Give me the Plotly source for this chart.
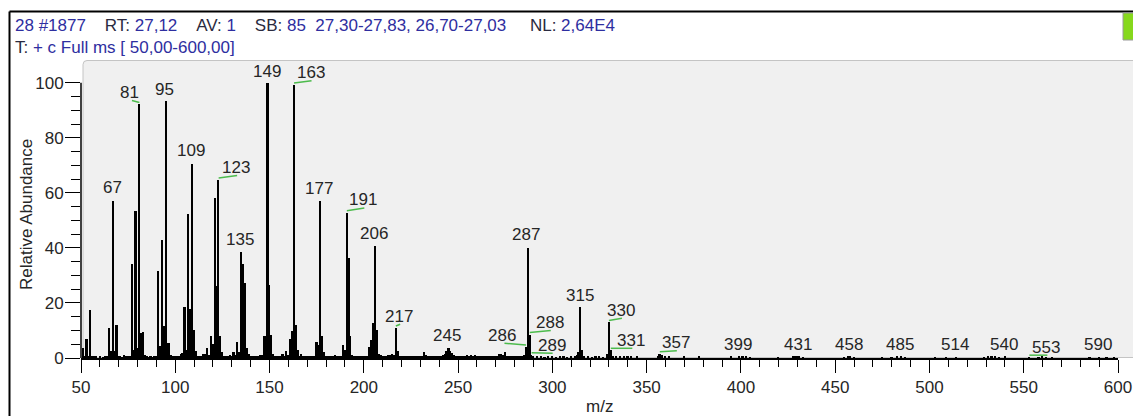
import plotly.graph_objects as go

# ---- spectrum data: m/z and relative abundance (%) ----
mz = [51, 52, 53, 54, 55, 56, 57, 58, 60, 62, 63, 64, 65, 66, 67, 68, 69, 70,
      71, 72, 73, 74, 75, 76, 77, 78, 79, 80, 81, 82, 83, 84, 85, 86, 87, 88,
      89, 90, 91, 92, 93, 94, 95, 96, 97, 98, 99, 100, 101, 102, 103, 104,
      105, 106, 107, 108, 109, 110, 111, 112, 113, 114, 115, 116, 117, 118,
      119, 120, 121, 122, 123, 124, 125, 126, 127, 128, 129, 130, 131, 132,
      133, 134, 135, 136, 137, 138, 139, 140, 141, 142, 143, 144, 145, 146,
      147, 148, 149, 150, 151, 152, 153, 154, 155, 156, 157, 158, 159, 160,
      161, 162, 163, 164, 165, 166, 167, 168, 169, 170, 171, 172, 173, 174,
      175, 176, 177, 178, 179, 180, 181, 182, 183, 184, 185, 186, 187, 188,
      189, 190, 191, 192, 193, 194, 195, 196, 197, 198, 199, 200, 201, 202,
      203, 204, 205, 206, 207, 208, 209, 210, 211, 212, 213, 214, 215, 216,
      217, 218, 219, 220, 221, 222, 223, 224, 225, 226, 227, 228, 229, 230,
      231, 232, 233, 234, 235, 236, 237, 238, 239, 240, 241, 242, 243, 244,
      245, 246, 247, 248, 249, 250, 251, 252, 253, 254, 255, 256, 257, 258,
      259, 260, 261, 262, 263, 264, 265, 266, 267, 268, 269, 270, 271, 272,
      273, 274, 275, 276, 277, 278, 279, 280, 281, 282, 283, 284, 285, 286,
      287, 288, 289, 290, 292, 294, 296, 298, 300, 302, 304, 306, 308, 310,
      312, 313, 314, 315, 316, 317, 319, 321, 323, 325, 327, 329, 330, 331,
      332, 334, 336, 338, 340, 342, 345, 356, 357, 358, 360, 362, 370, 378,
      395, 399, 401, 403, 405, 420, 428, 429, 430, 431, 433, 455, 457, 458,
      460, 475, 480, 483, 485, 487, 503, 509, 514, 529, 531, 533, 535, 537,
      540, 553, 558, 560, 562, 565, 585, 590, 594, 598]

rel_abundance = [3.6, 0.5, 6.9, 0.5, 17.3, 0.8, 0.5, 0.4, 0.4, 0.3, 0.6, 0.5,
                 10.9, 2.7, 57.1, 2.5, 11.9, 0.8, 0.5, 0.3, 1.0, 0.4, 0.5, 0.5,
                 34.2, 3.0, 53.4, 3.8, 92.1, 9.0, 9.3, 1.0, 0.6, 0.3, 0.4, 0.3,
                 0.5, 0.4, 31.7, 4.5, 42.9, 11.5, 93.2, 5.5, 5.3, 1.0, 0.8, 0.4,
                 0.5, 0.4, 1.5, 1.8, 18.5, 3.0, 52.2, 17.8, 70.6, 10.0, 2.5, 0.8,
                 0.5, 0.4, 1.5, 1.5, 3.6, 1.2, 8.1, 5.0, 58.3, 26.0, 64.7, 8.1,
                 2.0, 0.6, 0.5, 0.8, 1.0, 0.6, 2.0, 1.0, 5.8, 2.0, 38.5, 34.1,
                 27.2, 3.6, 1.5, 0.5, 0.4, 0.4, 0.8, 0.5, 1.0, 1.2, 7.9, 8.1,
                 100.0, 26.6, 8.5, 1.5, 0.6, 0.4, 0.5, 0.6, 1.5, 0.5, 2.4, 1.0,
                 6.9, 9.9, 99.2, 11.9, 3.0, 0.7, 1.5, 0.5, 0.6, 0.4, 0.8, 0.6,
                 0.8, 0.5, 5.8, 4.6, 57.1, 8.1, 2.0, 0.5, 0.6, 0.4, 0.5, 0.4,
                 1.0, 0.5, 0.8, 0.5, 4.8, 3.0, 52.8, 36.3, 7.9, 1.2, 0.8, 0.6,
                 0.5, 0.5, 0.4, 0.6, 0.5, 0.8, 4.0, 6.6, 12.7, 40.7, 10.0, 1.5,
                 1.0, 0.5, 0.6, 0.5, 1.0, 1.2, 1.5, 1.0, 10.9, 2.5, 0.8, 0.6,
                 0.8, 0.5, 0.7, 0.5, 0.6, 0.8, 0.6, 0.5, 0.7, 0.4, 0.8, 2.0,
                 1.2, 0.5, 0.6, 0.4, 0.5, 0.4, 0.6, 0.5, 0.6, 1.0, 1.6, 2.5,
                 3.6, 2.5, 1.8, 1.0, 0.6, 0.4, 0.5, 0.4, 0.5, 0.8, 1.0, 0.6,
                 1.2, 0.8, 1.1, 0.6, 0.4, 0.5, 0.4, 0.5, 0.8, 0.4, 0.5, 0.4,
                 0.6, 0.5, 0.9, 1.3, 1.5, 1.2, 2.0, 0.8, 0.5, 0.4, 0.5, 0.4,
                 0.5, 0.6, 0.4, 0.5, 1.0, 4.0, 40.1, 8.5, 1.2, 0.6, 0.4, 0.5,
                 0.3, 0.4, 0.5, 0.3, 0.4, 0.5, 0.3, 0.4, 0.5, 1.0, 2.0, 18.4,
                 3.0, 0.8, 0.4, 0.3, 0.5, 0.4, 0.3, 1.5, 12.9, 2.8, 0.8, 0.5,
                 0.4, 0.6, 0.4, 0.5, 0.4, 0.8, 1.5, 1.0, 0.6, 0.7, 0.5, 0.5,
                 0.4, 0.5, 0.4, 0.5, 0.3, 0.3, 0.4, 0.4, 0.4, 0.5, 0.3, 0.3,
                 0.4, 0.4, 0.3, 0.3, 0.3, 0.4, 0.4, 0.3, 0.3, 0.3, 0.3, 0.3,
                 0.4, 0.4, 0.4, 0.3, 0.4, 0.3, 0.3, 0.4, 0.3, 0.3, 0.3, 0.3,
                 0.3, 0.3]

# peaks carrying an m/z label
label_mz = [67, 81, 95, 109, 123, 135, 149, 163, 177, 191, 206, 217, 245,
            286, 287, 288, 289, 315, 330, 331, 357, 399, 431, 458, 485, 514,
            540, 553, 590]

# header lines of the scan
header_line1 = [("28 #1877", "v"), ("RT:", "k"), ("27,12", "v"), ("AV:", "k"),
                ("1", "v"), ("SB:", "k"), ("85", "v"),
                ("27,30-27,83, 26,70-27,03", "v"), ("NL:", "k"), ("2,64E4", "v")]
header_line2 = [("T:", "k"), ("+ c Full ms [ 50,00-600,00]", "v")]

x_major = [50, 100, 150, 200, 250, 300, 350, 400, 450, 500, 550, 600]
y_major = [0, 20, 40, 60, 80, 100]

# ---- page geometry (pixels) ----
W, H = 1133, 416
ML, MR, MT, MB = 81, 15, 61, 58
PW, PH = W - ML - MR, H - MT - MB


def pxx(x):
    return (x - ML) / PW


def pxy(y):
    return (H - MB - y) / PH


FONT = "Arial, Liberation Sans, sans-serif"
TEXT_DARK = "#262626"
BLUE = "#2e2ea0"
HEAD_DARK = "#2a2a40"
GREEN = "#4cbb4c"

# label placement (pixel shift from the peak top) and leader lines
label_shift = {67: (-1, 13), 81: (-10, 12), 95: (-1, 11.5), 109: (-1, 13),
               123: (17.5, 12.3), 135: (-1, 12.3), 149: (-0.6, 11.7),
               163: (16.5, 12.3), 177: (-1.3, 12.7), 191: (16.5, 12.7),
               206: (-1.4, 12), 217: (3.3, 11.8), 245: (-1.7, 12.3),
               286: (-24, 11.8), 287: (-2, 12.7), 288: (20, 12),
               289: (20, 9.5), 315: (-0.6, 12), 330: (12, 12.3),
               331: (20.5, 10), 357: (16, 11), 553: (17, 10)}
leader = {81, 123, 163, 191, 217, 286, 288, 289, 330, 331, 357, 553}

height_of = dict(zip(mz, rel_abundance))

fig = go.Figure()
fig.add_trace(go.Bar(x=mz, y=rel_abundance, width=0.9,
                     marker=dict(color="black", line=dict(width=0)),
                     hoverinfo="skip", showlegend=False))

shapes = []
# grey spectrum panel with rounded top-left corner
x0p, x1p = pxx(83), pxx(1134)
y0p, y1p = pxy(357.5), pxy(60.5)
r = 4
shapes.append(dict(
    type="path", xref="paper", yref="paper", layer="below",
    path=(f"M {x0p},{y0p} L {x0p},{pxy(60.5 + r)} "
          f"Q {x0p},{y1p} {pxx(83 + r)},{y1p} L {x1p},{y1p} L {x1p},{y0p} Z"),
    fillcolor="#f0f0f0", line=dict(color="#c4c4c4", width=1)))
# y axis line from 0 to 100 only
shapes.append(dict(type="line", xref="paper", yref="y", x0=0, x1=0, y0=0,
                   y1=100, line=dict(color="black", width=1.5)))
# outer window frame
shapes.append(dict(type="line", xref="paper", yref="paper", x0=pxx(9.5),
                   x1=pxx(1134), y0=pxy(11.5), y1=pxy(11.5),
                   line=dict(color="black", width=2)))
shapes.append(dict(type="line", xref="paper", yref="paper", x0=pxx(9.5),
                   x1=pxx(9.5), y0=pxy(11.5), y1=pxy(417),
                   line=dict(color="black", width=2)))
# small status box at the top right
shapes.append(dict(type="rect", xref="paper", yref="paper", x0=pxx(1123),
                   x1=pxx(1134), y0=pxy(40), y1=pxy(13),
                   fillcolor="#86d81c", line=dict(color="#9a9a9a", width=1)))

annotations = []
for m in label_mz:
    h = height_of[m]
    dx, dy = label_shift.get(m, (-1, 12.5))
    annotations.append(dict(
        x=m, y=h, xref="x", yref="y", text=str(m), showarrow=False,
        xshift=dx, yshift=dy, xanchor="center", yanchor="middle",
        font=dict(family=FONT, size=17, color=TEXT_DARK)))
    if m in leader:
        ex = dx + 2.5 if dx < 0 else dx + 1
        shapes.append(dict(
            type="line", xref="x", yref="y",
            xsizemode="pixel", ysizemode="pixel", xanchor=m, yanchor=h,
            x0=0, x1=ex, y0=2, y1=dy - 8,
            line=dict(color=GREEN, width=1.5)))


def header_html(parts, gaps):
    out = []
    for (txt, kind), gap in zip(parts, gaps):
        col = BLUE if kind == "v" else HEAD_DARK
        out.append(f"<span style='color:{col}'>{txt}</span>" + "&nbsp;" * gap)
    return "".join(out)


annotations.append(dict(
    x=pxx(13), y=pxy(25), xref="paper", yref="paper", xanchor="left",
    yanchor="middle", showarrow=False,
    text=header_html(header_line1, [4, 1, 4, 1, 4, 1, 2, 5, 1, 0]),
    font=dict(family=FONT, size=17, color=BLUE)))
annotations.append(dict(
    x=pxx(13), y=pxy(47), xref="paper", yref="paper", xanchor="left",
    yanchor="middle", showarrow=False,
    text=header_html(header_line2, [1, 0]),
    font=dict(family=FONT, size=17, color=BLUE)))
# axis titles
annotations.append(dict(
    x=pxx(26), y=pxy(215), xref="paper", yref="paper", textangle=-90,
    xanchor="center", yanchor="middle", showarrow=False,
    text="Relative Abundance", font=dict(family=FONT, size=17, color=TEXT_DARK)))
annotations.append(dict(
    x=pxx(599), y=pxy(406), xref="paper", yref="paper",
    xanchor="center", yanchor="middle", showarrow=False,
    text="m/z", font=dict(family=FONT, size=17, color=TEXT_DARK)))

x_minor = [v for v in range(60, 600, 10) if v % 50]
y_minor = [v for v in range(5, 100, 5) if v % 20]

fig.update_layout(
    width=W, height=H,
    margin=dict(l=ML, r=MR, t=MT, b=MB, pad=0),
    paper_bgcolor="white", plot_bgcolor="rgba(0,0,0,0)",
    bargap=0, showlegend=False,
    shapes=shapes, annotations=annotations,
    font=dict(family=FONT, size=17, color=TEXT_DARK),
    xaxis=dict(range=[50, 600], tickmode="array", tickvals=x_major,
               ticks="outside", ticklen=13, tickwidth=1, tickcolor="black",
               showline=True, linecolor="black", linewidth=1.5,
               showgrid=False, zeroline=False, ticklabeloverflow="allow",
               automargin=False,
               tickfont=dict(family=FONT, size=17, color=TEXT_DARK),
               minor=dict(tickmode="array", tickvals=x_minor, ticks="outside",
                          ticklen=7, tickwidth=1, tickcolor="black",
                          showgrid=False)),
    yaxis=dict(range=[0, 107.9], tickmode="array", tickvals=y_major,
               ticks="outside", ticklen=15, tickwidth=1, tickcolor="black",
               showline=False, showgrid=False, zeroline=False,
               ticklabelstandoff=-2, automargin=False,
               tickfont=dict(family=FONT, size=17, color=TEXT_DARK),
               minor=dict(tickmode="array", tickvals=y_minor, ticks="outside",
                          ticklen=9, tickwidth=1, tickcolor="black",
                          showgrid=False)),
)

fig.write_html("out.html")
